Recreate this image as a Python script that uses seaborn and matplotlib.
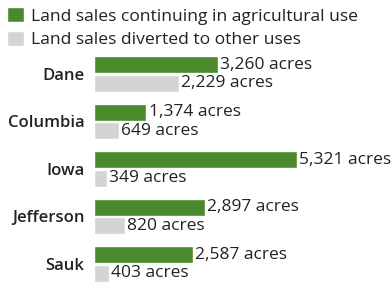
import matplotlib
matplotlib.use("Agg")
import matplotlib.pyplot as plt
import pandas as pd
import seaborn as sns

counties = ["Dane", "Columbia", "Iowa", "Jefferson", "Sauk"]
agricultural = [3260, 1374, 5321, 2897, 2587]
diverted = [2229, 649, 349, 820, 403]
series_names = ["Land sales continuing in agricultural use", "Land sales diverted to other uses"]

GREEN = "#4a8a2c"
GRAY = "#d4d4d6"

df = pd.DataFrame({
    "county": counties * 2,
    "acres": agricultural + diverted,
    "use": [series_names[0]] * len(counties) + [series_names[1]] * len(counties),
})

sns.set_style("white")
plt.rcParams["font.family"] = ["Open Sans", "DejaVu Sans"]

fig = plt.figure(figsize=(3.91, 2.82), dpi=100)
ax = fig.add_axes([94 / 391, 0, 297 / 391, (282 - 50) / 282])

sns.barplot(data=df, y="county", x="acres", hue="use", order=counties,
            hue_order=series_names, palette=[GREEN, GRAY], orient="h",
            width=0.78, gap=0.085, ax=ax, saturation=1)

ax.set_xlim(0, 7785)
ax.set_ylim(4.378, -0.5)
for container in ax.containers:
    ax.bar_label(container, labels=[f"{int(v):,} acres" for v in container.datavalues],
                 padding=1.5, fontsize=12.5, color="#222222")

ax.set_xlabel("")
ax.set_ylabel("")
ax.set_xticks([])
ax.tick_params(axis="y", length=0, pad=7)
for lab in ax.get_yticklabels():
    lab.set_fontsize(12)
    lab.set_fontweight("semibold")
    lab.set_color("#222222")
sns.despine(ax=ax, left=True, bottom=True)

handles, labels = ax.get_legend_handles_labels()
ax.legend(handles, labels, loc="upper left", bbox_to_anchor=(0.0, 1.0),
          bbox_transform=fig.transFigure, frameon=False, fontsize=12.6,
          handlelength=0.95, handleheight=0.95, handletextpad=0.4,
          labelspacing=0.35, borderpad=0.3, borderaxespad=0.1,
          labelcolor="#222222")

fig.savefig("out.png", dpi=100)
